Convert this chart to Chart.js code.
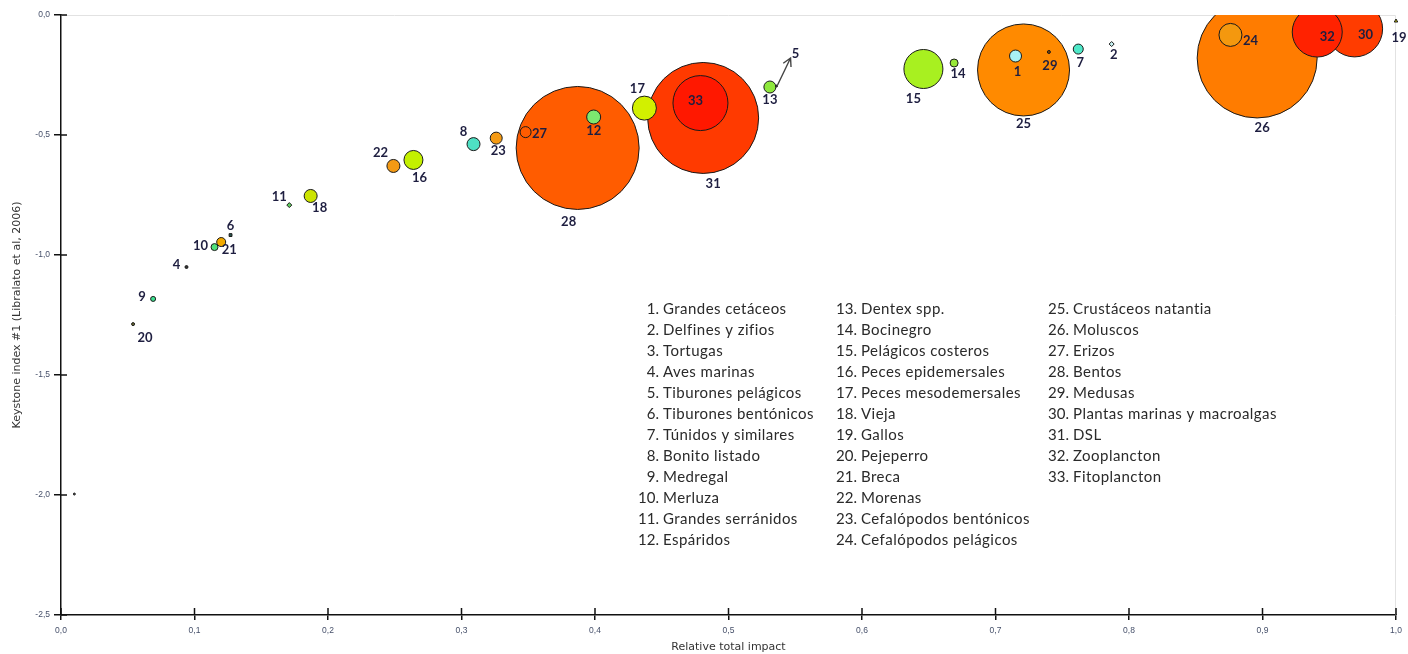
<!DOCTYPE html>
<html>
<head>
<meta charset="utf-8">
<script src="https://cdn.jsdelivr.net/npm/chart.js@4.4.1/dist/chart.umd.min.js"></script>
<style>
  html, body { margin: 0; padding: 0; background: #fff; }
  #wrap { width: 1408px; height: 654px; }
</style>
</head>
<body>
<div id="wrap"><canvas id="c" width="1408" height="654"></canvas></div>
<script>
// ---- Data -------------------------------------------------------------
const groupIds = [1, 2, 3, 4, 5, 6, 7, 8, 9, 10, 11, 12, 13, 14, 15, 16, 17,
  18, 19, 20, 21, 22, 23, 24, 25, 26, 27, 28, 29, 30, 31, 32, 33];

const groupNames = [
  'Grandes cetáceos', 'Delfines y zifios', 'Tortugas', 'Aves marinas',
  'Tiburones pelágicos', 'Tiburones bentónicos', 'Túnidos y similares',
  'Bonito listado', 'Medregal', 'Merluza', 'Grandes serránidos', 'Espáridos',
  'Dentex spp.', 'Bocinegro', 'Pelágicos costeros', 'Peces epidemersales',
  'Peces mesodemersales', 'Vieja', 'Gallos', 'Pejeperro', 'Breca', 'Morenas',
  'Cefalópodos bentónicos', 'Cefalópodos pelágicos', 'Crustáceos natantia',
  'Moluscos', 'Erizos', 'Bentos', 'Medusas', 'Plantas marinas y macroalgas',
  'DSL', 'Zooplancton', 'Fitoplancton'
];

// Relative total impact (x)
const relativeImpact = [0.715, 0.787, 0.010, 0.094, 0.536, 0.127, 0.762,
  0.309, 0.069, 0.115, 0.171, 0.399, 0.531, 0.669, 0.646, 0.264, 0.437,
  0.187, 1.000, 0.054, 0.120, 0.249, 0.326, 0.876, 0.721, 0.896, 0.348,
  0.387, 0.740, 0.969, 0.481, 0.941, 0.479];

// Keystone index #1 (y)
const keystoneIndex = [-0.171, -0.121, -1.996, -1.050, -0.296, -0.917, -0.142,
  -0.538, -1.183, -0.967, -0.792, -0.425, -0.300, -0.200, -0.225, -0.604,
  -0.388, -0.754, -0.025, -1.288, -0.946, -0.629, -0.513, -0.083, -0.229,
  -0.179, -0.488, -0.554, -0.154, -0.058, -0.429, -0.071, -0.367];

// Bubble radius
const bubbleRadius = [6, 2.5, 1, 1.5, 1, 2, 5, 6.5, 2.5, 3.5, 2.5, 7, 6, 4,
  19.5, 9.5, 12, 6.5, 2, 1.5, 4.5, 6.5, 6, 11.5, 46, 60, 5.5, 61.5, 1.5, 28,
  55.5, 25, 27.5];

const xTickValues = [0, 0.1, 0.2, 0.3, 0.4, 0.5, 0.6, 0.7, 0.8, 0.9, 1.0];
const xTickLabels = ['0,0', '0,1', '0,2', '0,3', '0,4', '0,5', '0,6', '0,7', '0,8', '0,9', '1,0'];
const yTickValues = [-2.5, -2.0, -1.5, -1.0, -0.5, 0.0];
const yTickLabels = ['-2,5', '-2,0', '-1,5', '-1,0', '-0,5', '0,0'];

// ---- Styles -----------------------------------------------------------
const fillColors = {
  1: '#a8f0f4', 2: '#c8f4f4', 3: '#555555', 4: '#333333', 5: '#444444',
  6: '#2a5a50', 7: '#4ee8c8', 8: '#4ee0c4', 9: '#3ee090', 10: '#50e07a',
  11: '#60d060', 12: '#7ce870', 13: '#8ee83c', 14: '#98e838', 15: '#a8f020',
  16: '#c4f000', 17: '#d2f000', 18: '#cce400', 19: '#d8d000', 20: '#6a6a30',
  21: '#f2aa00', 22: '#f49a14', 23: '#f49a14', 24: '#f4980e', 25: '#ff8a00',
  26: '#ff7c00', 27: 'rgba(0,0,0,0)', 28: '#ff5c00', 29: '#884400',
  30: '#ff3c00', 31: '#ff3a00', 32: '#ff2200', 33: '#ff1800'
};
const markerShapes = { 2: 'rectRot', 6: 'rect', 11: 'rectRot', 19: 'triangle' };

// Label offsets from each bubble centre, in pixels [dx, dy]
const labelOffsets = {
  1: [2, 16], 2: [2, 11], 4: [-10, -2], 5: [19, -32], 6: [0, -9], 7: [2, 14],
  8: [-10, -12], 9: [-11, -2], 10: [-14, -1], 11: [-10, -8], 12: [0, 14],
  13: [0, 13], 14: [4, 11], 15: [-10, 30], 16: [6, 18], 17: [-7, -19],
  18: [9, 12], 19: [3, 17], 20: [12, 14], 21: [8, 8], 22: [-13, -13],
  23: [2, 13], 24: [20, 6], 25: [0, 54], 26: [5, 70], 27: [14, 2],
  28: [-9, 74], 29: [1, 14], 30: [11, 6], 31: [10, 66], 32: [10, 5],
  33: [-5, -2]
};
// Leader arrow for group 5: tail and tip offsets from its centre
const arrowLeaders = { 5: { tail: [1, -1], tip: [14, -28] } };

// ---- Build dataset (large bubbles first so small ones sit on top) ------
const drawOrder = groupIds.map((_, i) => i)
  .sort((a, b) => bubbleRadius[b] - bubbleRadius[a]);
const points = drawOrder.map(i => ({
  x: relativeImpact[i], y: keystoneIndex[i], r: bubbleRadius[i], id: groupIds[i]
}));

// ---- Plugins ----------------------------------------------------------
const frameAndTicks = {
  id: 'frameAndTicks',
  beforeDatasetsDraw(chart) {
    const { ctx, chartArea: a, scales: { x, y } } = chart;
    ctx.save();
    // light frame along top and right
    ctx.strokeStyle = '#e2e2e2';
    ctx.lineWidth = 1;
    ctx.beginPath();
    ctx.moveTo(a.left, a.top + 0.5);
    ctx.lineTo(a.right - 0.5, a.top + 0.5);
    ctx.lineTo(a.right - 0.5, a.bottom);
    ctx.stroke();
    // inner halves of the tick marks
    ctx.strokeStyle = '#111';
    ctx.lineWidth = 1.5;
    ctx.beginPath();
    x.ticks.forEach(t => {
      const px = x.getPixelForValue(t.value);
      ctx.moveTo(px, a.bottom);
      ctx.lineTo(px, a.bottom - 7);
    });
    y.ticks.forEach(t => {
      const py = y.getPixelForValue(t.value);
      ctx.moveTo(a.left, py);
      ctx.lineTo(a.left + 6, py);
    });
    ctx.stroke();
    ctx.restore();
  }
};

const bubbleLabels = {
  id: 'bubbleLabels',
  afterDatasetsDraw(chart) {
    const ctx = chart.ctx;
    const meta = chart.getDatasetMeta(0);
    const data = chart.data.datasets[0].data;
    ctx.save();
    // leader arrows
    meta.data.forEach((el, k) => {
      const lead = arrowLeaders[data[k].id];
      if (!lead) return;
      const x0 = el.x + lead.tail[0], y0 = el.y + lead.tail[1];
      const x1 = el.x + lead.tip[0], y1 = el.y + lead.tip[1];
      const ang = Math.atan2(y1 - y0, x1 - x0);
      const head = 9, spread = 0.5;
      ctx.strokeStyle = '#444';
      ctx.lineWidth = 1.4;
      ctx.beginPath();
      ctx.moveTo(x0, y0);
      ctx.lineTo(x1, y1);
      ctx.moveTo(x1 - head * Math.cos(ang - spread), y1 - head * Math.sin(ang - spread));
      ctx.lineTo(x1, y1);
      ctx.lineTo(x1 - head * Math.cos(ang + spread), y1 - head * Math.sin(ang + spread));
      ctx.stroke();
    });
    // numeric labels
    ctx.font = 'bold 13px Lato';
    ctx.textAlign = 'center';
    ctx.textBaseline = 'middle';
    ctx.fillStyle = '#1e1e40';
    meta.data.forEach((el, k) => {
      const off = labelOffsets[data[k].id];
      if (!off) return;
      ctx.fillText(String(data[k].id), el.x + off[0], el.y + off[1]);
    });
    ctx.restore();
  }
};

// three-column key of group names
const legendColumns = [groupIds.slice(0, 12), groupIds.slice(12, 24), groupIds.slice(24)];
const legendNumberRight = [659, 857, 1069];
const legendTop = 309, legendRowGap = 21;

const groupKey = {
  id: 'groupKey',
  afterDraw(chart) {
    const ctx = chart.ctx;
    ctx.save();
    ctx.font = '15px Lato';
    ctx.fillStyle = '#2a2a2a';
    ctx.textBaseline = 'middle';
    legendColumns.forEach((col, c) => {
      col.forEach((id, r) => {
        const yy = legendTop + r * legendRowGap;
        ctx.letterSpacing = '0px';
        ctx.textAlign = 'right';
        ctx.fillText(id + '.', legendNumberRight[c], yy);
        ctx.letterSpacing = '0.45px';
        ctx.textAlign = 'left';
        ctx.fillText(groupNames[groupIds.indexOf(id)], legendNumberRight[c] + 4, yy);
      });
    });
    ctx.restore();
  }
};

// ---- Chart ------------------------------------------------------------
const tickFont = { family: 'Liberation Sans', size: 8.5 };
const titleFont = { family: 'DejaVu Sans', size: 11 };

new Chart(document.getElementById('c'), {
  type: 'bubble',
  data: {
    datasets: [{
      data: points,
      backgroundColor: ctx => fillColors[ctx.raw.id],
      borderColor: '#1a1a1a',
      borderWidth: 1,
      pointStyle: ctx => markerShapes[ctx.raw.id] || 'circle',
      clip: { left: 10, top: 0, right: 10, bottom: 10 }
    }]
  },
  options: {
    responsive: false,
    animation: false,
    events: [],
    layout: { autoPadding: false, padding: { left: 0, top: 15, right: 12, bottom: 0 } },
    plugins: { legend: { display: false }, tooltip: { enabled: false } },
    scales: {
      x: {
        type: 'linear', min: 0, max: 1,
        afterBuildTicks: s => { s.ticks = xTickValues.map(v => ({ value: v })); },
        afterFit: s => { s.height = 39; },
        grid: { drawOnChartArea: false, drawTicks: true, tickLength: 5, color: '#111', lineWidth: 1.5 },
        border: { display: true, color: '#111', width: 1.5 },
        ticks: {
          font: tickFont, color: '#46506a', padding: 6, maxRotation: 0, autoSkip: false,
          callback: (v, i) => xTickLabels[i]
        },
        title: {
          display: true, text: 'Relative total impact', font: titleFont, color: '#333',
          padding: { top: 0, bottom: 0 }
        }
      },
      y: {
        type: 'linear', min: -2.5, max: 0,
        afterBuildTicks: s => { s.ticks = yTickValues.map(v => ({ value: v })); },
        afterFit: s => { s.width = 61; },
        grid: { drawOnChartArea: false, drawTicks: true, tickLength: 7, color: '#111', lineWidth: 1.5 },
        border: { display: true, color: '#111', width: 1.5 },
        ticks: {
          font: tickFont, color: '#46506a', padding: 4, autoSkip: false,
          callback: (v, i) => yTickLabels[i]
        },
        title: {
          display: true, text: 'Keystone index #1 (Libralato et al, 2006)', font: titleFont,
          color: '#333', padding: { top: 11, bottom: 0 }
        }
      }
    }
  },
  plugins: [frameAndTicks, bubbleLabels, groupKey]
});
</script>
</body>
</html>
